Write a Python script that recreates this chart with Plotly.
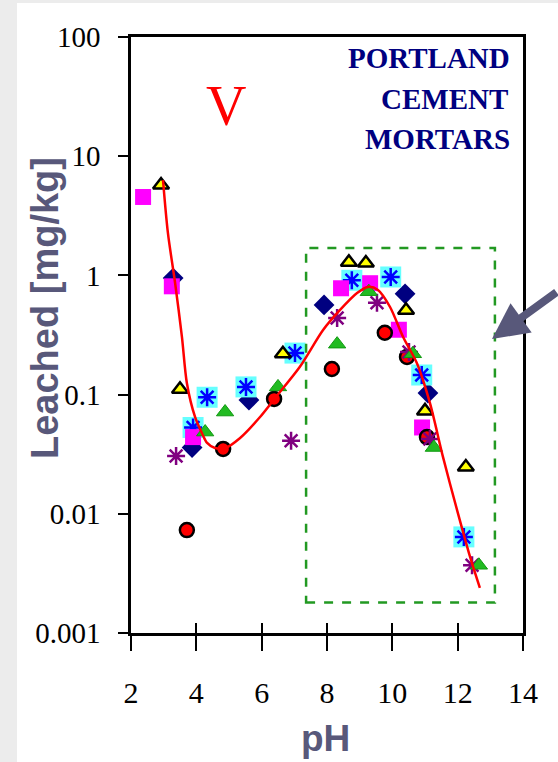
import plotly.graph_objects as go

# Leached vanadium vs. pH, Portland cement mortars
diam_ph = [3.29, 3.87, 5.61, 7.91, 10.39, 11.09]
diam_v = [0.95, 0.036, 0.090, 0.565, 0.70, 0.103]

mag_ph = [2.37, 3.25, 3.90, 8.43, 9.32, 10.20, 10.91]
mag_v = [4.55, 0.81, 0.044, 0.78, 0.86, 0.35, 0.053]

yel_ph = [2.92, 3.50, 6.65, 8.67, 9.19, 10.42, 11.00, 12.25]
yel_v = [5.73, 0.111, 0.22, 1.29, 1.27, 0.51, 0.073, 0.0247]

cy_ph = [3.90, 4.33, 5.52, 7.02, 8.76, 9.95, 10.90, 12.19]
cy_v = [0.053, 0.095, 0.116, 0.223, 0.91, 0.97, 0.146, 0.0064]

pur_ph = [3.38, 6.90, 8.31, 9.53, 10.51, 11.15, 12.44]
pur_v = [0.0305, 0.041, 0.44, 0.59, 0.228, 0.0425, 0.0037]

red_ph = [3.71, 4.82, 6.38, 8.15, 9.77, 10.45, 11.06]
red_v = [0.0073, 0.035, 0.092, 0.164, 0.33, 0.207, 0.044]

grn_ph = [4.27, 4.88, 6.50, 8.31, 9.28, 10.63, 11.27, 12.65]
grn_v = [0.0485, 0.0714, 0.116, 0.265, 0.73, 0.22, 0.036, 0.0037]

# fitted trend curve
fit_ph = [2.98, 3.13, 3.35, 3.56, 3.71, 3.96, 4.17, 4.33, 4.57, 4.88, 5.34,
          5.95, 6.41, 7.17, 7.88, 8.40, 8.92, 9.25, 9.56, 9.93, 10.33, 10.75,
          11.15, 11.55, 11.98, 12.38, 12.68]
fit_v = [6.31, 2.27, 0.863, 0.304, 0.125, 0.0649, 0.0476, 0.0393, 0.0356,
         0.0356, 0.0433, 0.0649, 0.0935, 0.171, 0.348, 0.513, 0.711, 0.80,
         0.755, 0.543, 0.304, 0.184, 0.0851, 0.030, 0.0108, 0.00435, 0.00239]

y_ticks = [0.001, 0.01, 0.1, 1, 10, 100]
y_tick_text = ["0.001", "0.01", "0.1", "1", "10", "100"]
x_ticks = [2, 4, 6, 8, 10, 12, 14]

# highlighted alkaline region (pH range, leached range)
box_ph = [7.36, 13.14]
box_v = [0.0018, 1.70]

W, H = 558, 762
ML, MR, MT, MB = 131, 35, 37, 129
PW, PH = W - ML - MR, H - MT - MB


def px(xp):
    return (xp - ML) / PW


def py(yp):
    return (H - MB - yp) / PH


SERIF = "Liberation Serif, Times New Roman, serif"
SANS = "Liberation Sans, Arial, sans-serif"
SLATE = "#58587a"

fig = go.Figure()

fig.add_trace(go.Scatter(x=diam_ph, y=diam_v, mode="markers",
                         marker=dict(symbol="diamond", size=16, color="#000080",
                                     line=dict(width=0))))
fig.add_trace(go.Scatter(x=cy_ph, y=cy_v, mode="markers",
                         marker=dict(symbol="square", size=21, color="#66ffff",
                                     line=dict(width=0))))
fig.add_trace(go.Scatter(x=cy_ph, y=cy_v, mode="markers",
                         marker=dict(symbol="asterisk-open", size=15, color="#0000ff",
                                     line=dict(width=2.5, color="#0000ff"))))
fig.add_trace(go.Scatter(x=mag_ph, y=mag_v, mode="markers",
                         marker=dict(symbol="square", size=16, color="#ff00ff",
                                     line=dict(width=0))))
fig.add_trace(go.Scatter(x=yel_ph, y=yel_v, mode="markers",
                         marker=dict(symbol="triangle-up", size=14, color="#ffff00",
                                     line=dict(width=2.5, color="black"))))
fig.add_trace(go.Scatter(x=red_ph, y=red_v, mode="markers",
                         marker=dict(symbol="circle", size=14, color="#ff0000",
                                     line=dict(width=2.5, color="black"))))
fig.add_trace(go.Scatter(x=pur_ph, y=pur_v, mode="markers",
                         marker=dict(symbol="asterisk-open", size=15, color="#800080",
                                     line=dict(width=2.5, color="#800080"))))
fig.add_trace(go.Scatter(x=grn_ph, y=grn_v, mode="markers",
                         marker=dict(symbol="triangle-up", size=15, color="#22bb22",
                                     line=dict(width=1, color="#119911"))))
fig.add_trace(go.Scatter(x=fit_ph, y=fit_v, mode="lines",
                         line=dict(color="#ff0000", width=2.5, shape="spline",
                                   smoothing=0.8)))
# invisible carrier so the inner tick marks on the pH axis get drawn
fig.add_trace(go.Scatter(x=[x_ticks[0]], y=[y_ticks[0]], xaxis="x2", mode="markers",
                         marker=dict(opacity=0), hoverinfo="skip"))

shapes = [
    # white page panel over the grey backdrop
    dict(type="rect", xref="paper", yref="paper", layer="below",
         x0=px(17), x1=px(W + 5), y0=py(H + 5), y1=py(3),
         fillcolor="white", line=dict(width=0)),
    dict(type="rect", xref="x", yref="y",
         x0=box_ph[0], x1=box_ph[1], y0=box_v[0], y1=box_v[1],
         line=dict(color="#229922", width=2.5, dash="dash"), fillcolor="rgba(0,0,0,0)"),
]

annotations = [
    dict(text="<b>PORTLAND</b>", x=px(429), y=py(58), xref="paper", yref="paper",
         showarrow=False, xanchor="center", yanchor="middle",
         font=dict(family=SERIF, size=29, color="#000080")),
    dict(text="<b>CEMENT</b>", x=px(444), y=py(99), xref="paper", yref="paper",
         showarrow=False, xanchor="center", yanchor="middle",
         font=dict(family=SERIF, size=29, color="#000080")),
    dict(text="<b>MORTARS</b>", x=px(437), y=py(139), xref="paper", yref="paper",
         showarrow=False, xanchor="center", yanchor="middle",
         font=dict(family=SERIF, size=29, color="#000080")),
    dict(text="V", x=px(226), y=py(106), xref="paper", yref="paper",
         showarrow=False, xanchor="center", yanchor="middle",
         font=dict(family=SERIF, size=56, color="#ff0000")),
    dict(text="<b>Leached [mg/kg]</b>", x=px(45), y=py(308), xref="paper", yref="paper",
         showarrow=False, xanchor="center", yanchor="middle", textangle=-90,
         font=dict(family=SANS, size=38, color=SLATE)),
    dict(text="<b>pH</b>", x=px(325), y=py(738), xref="paper", yref="paper",
         showarrow=False, xanchor="center", yanchor="middle",
         font=dict(family=SANS, size=37, color=SLATE)),
    # pointer arrow into the highlighted region
    dict(text="", x=13.05, y=-0.534, xref="x", yref="y", showarrow=True,
         ax=80, ay=-48, arrowhead=2, arrowsize=0.9, arrowwidth=8,
         arrowcolor=SLATE, standoff=0),
]

fig.update_layout(
    width=W, height=H,
    margin=dict(l=ML, r=MR, t=MT, b=MB),
    paper_bgcolor="#ececec",
    plot_bgcolor="white",
    showlegend=False,
    shapes=shapes,
    annotations=annotations,
    xaxis=dict(range=[2, 14], tickvals=x_ticks, ticks="outside", ticklen=15,
               tickwidth=1.5, tickcolor="black", showline=True, linewidth=2.5,
               linecolor="black", mirror=True, showgrid=False, zeroline=False,
               tickfont=dict(family=SERIF, size=30, color="black"),
               ticklabelstandoff=16),
    xaxis2=dict(range=[2, 14], tickvals=x_ticks, ticks="inside", ticklen=10,
                tickwidth=1.5, tickcolor="black", showline=False,
                showticklabels=False, showgrid=False, zeroline=False,
                overlaying="x", side="bottom", anchor="y"),
    yaxis=dict(type="log", range=[-3, 2], tickvals=y_ticks, ticktext=y_tick_text,
               ticks="outside", ticklen=10, tickwidth=1.5, tickcolor="black",
               showline=True, linewidth=2.5, linecolor="black", mirror=True,
               showgrid=False, zeroline=False,
               tickfont=dict(family=SERIF, size=29, color="black"),
               ticklabelstandoff=12),
)

fig.write_html("out.html")
